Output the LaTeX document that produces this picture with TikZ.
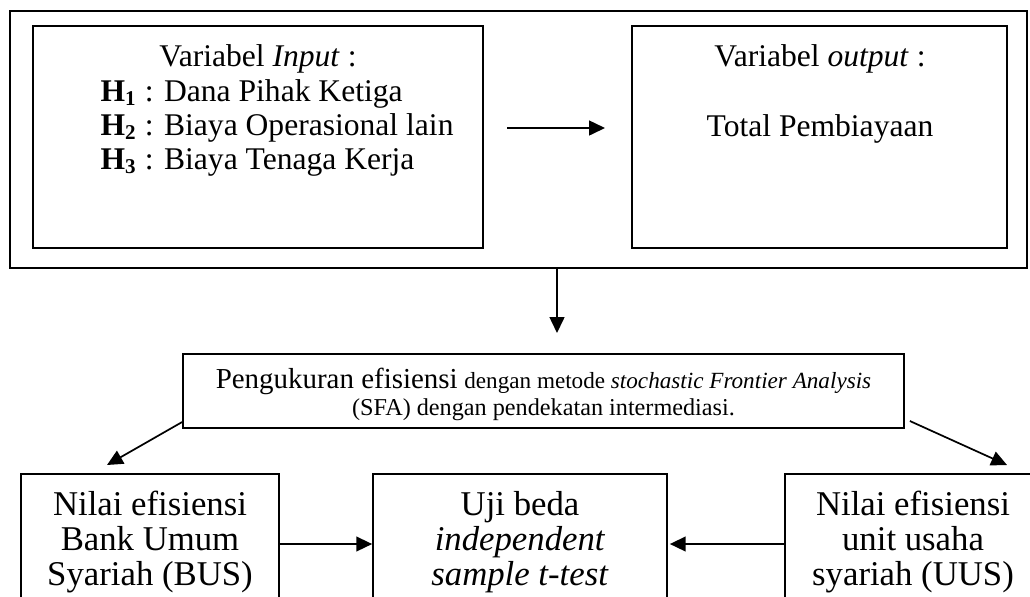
\documentclass[tikz,border=0pt]{standalone}
\usepackage{fontspec}
\setmainfont{Liberation Serif}
\usetikzlibrary{arrows.meta,fit}
\tikzset{
  box/.style={draw, line width=0.65pt, inner sep=0pt, rectangle},
  txt/.style={inner sep=0pt, anchor=base, font=\fontsize{12}{13}\selectfont},
  txtl/.style={inner sep=0pt, anchor=base west, font=\fontsize{12}{13}\selectfont},
  big/.style={inner sep=0pt, anchor=base, font=\fontsize{13.2}{14}\selectfont},
  arr/.style={line width=0.65pt, -{Triangle[length=6pt,width=5.6pt]}}
}
\begin{document}
\begin{tikzpicture}[x=0.38pt,y=-0.38pt]
\clip (0,0) rectangle (1030,596);
\fill[white] (0,0) rectangle (1030,596);
% top group
\node[box, fit={(10,11)(1027,268)}] (outer) {};
\node[box, fit={(33,26)(483,248)}] (inL) {};
\node[box, fit={(632,26)(1007,248)}] (inR) {};
\node[txt] (inT) at (258,66) {Variabel \textit{Input} :};
\node[txtl] (h1) at (100,101) {\textbf{H}\textsubscript{\textbf{1}} : Dana Pihak Ketiga};
\node[txtl] (h2) at (100,135) {\textbf{H}\textsubscript{\textbf{2}} : Biaya Operasional lain};
\node[txtl] (h3) at (100,169) {\textbf{H}\textsubscript{\textbf{3}} : Biaya Tenaga Kerja};
\node[txt] (outT) at (820,66) {Variabel \textit{output} :};
\node[txt] (outV) at (820,136) {Total Pembiayaan};
\coordinate (a1s) at (507,128);
\coordinate (a1e) at (605,128);
\draw[arr] (a1s) -- (a1e);
% down arrow
\coordinate (dn) at (557,333);
\draw[arr] (outer.south -| dn) -- (dn);
% SFA box
\node[box, fit={(183,354)(904,428)}] (sfa) {};
\node[inner sep=0pt, anchor=base] (sfa1) at (543.5,388) {{\fontsize{11}{13}\selectfont Pengukuran efisiensi} {\fontsize{8.8}{10}\selectfont dengan metode \textit{stochastic Frontier Analysis}}};
\node[inner sep=0pt, anchor=base, font=\fontsize{9.2}{10}\selectfont] (sfa2) at (543.5,415) {(SFA) dengan pendekatan intermediasi.};
% bottom boxes
\node[box, fit={(21,474)(279,640)}] (bus) {};
\node[box, fit={(373,474)(667,640)}] (uji) {};
\node[box, fit={(785,474)(1042,640)}] (uus) {};
\node[big] (b1) at (150,515) {Nilai efisiensi};
\node[big] (b2) at (150,550) {Bank Umum};
\node[big] (b3) at (150,585) {Syariah (BUS)};
\node[big] (u1) at (520,515) {Uji beda};
\node[big] (u2) at (520,550) {\textit{independent}};
\node[big] (u3) at (520,585) {\textit{sample t-test}};
\node[big] (s1) at (913,515) {Nilai efisiensi};
\node[big] (s2) at (913,550) {unit usaha};
\node[big] (s3) at (913,585) {syariah (UUS)};
% diagonal arrows
\coordinate (dl) at (107,465);
\coordinate (dr) at (1007,465);
\draw[arr] (sfa.west |- 0,422) -- (dl);
\draw[arr] ([xshift=5*0.38pt]sfa.east |- 0,421) -- (dr);
% bottom horizontal arrows
\coordinate (ylev) at (0,544);
\draw[arr] (bus.east |- ylev) -- (uji.west |- ylev);
\draw[arr] (uus.west |- ylev) -- ([xshift=2*0.38pt]uji.east |- ylev);
\end{tikzpicture}
\end{document}
